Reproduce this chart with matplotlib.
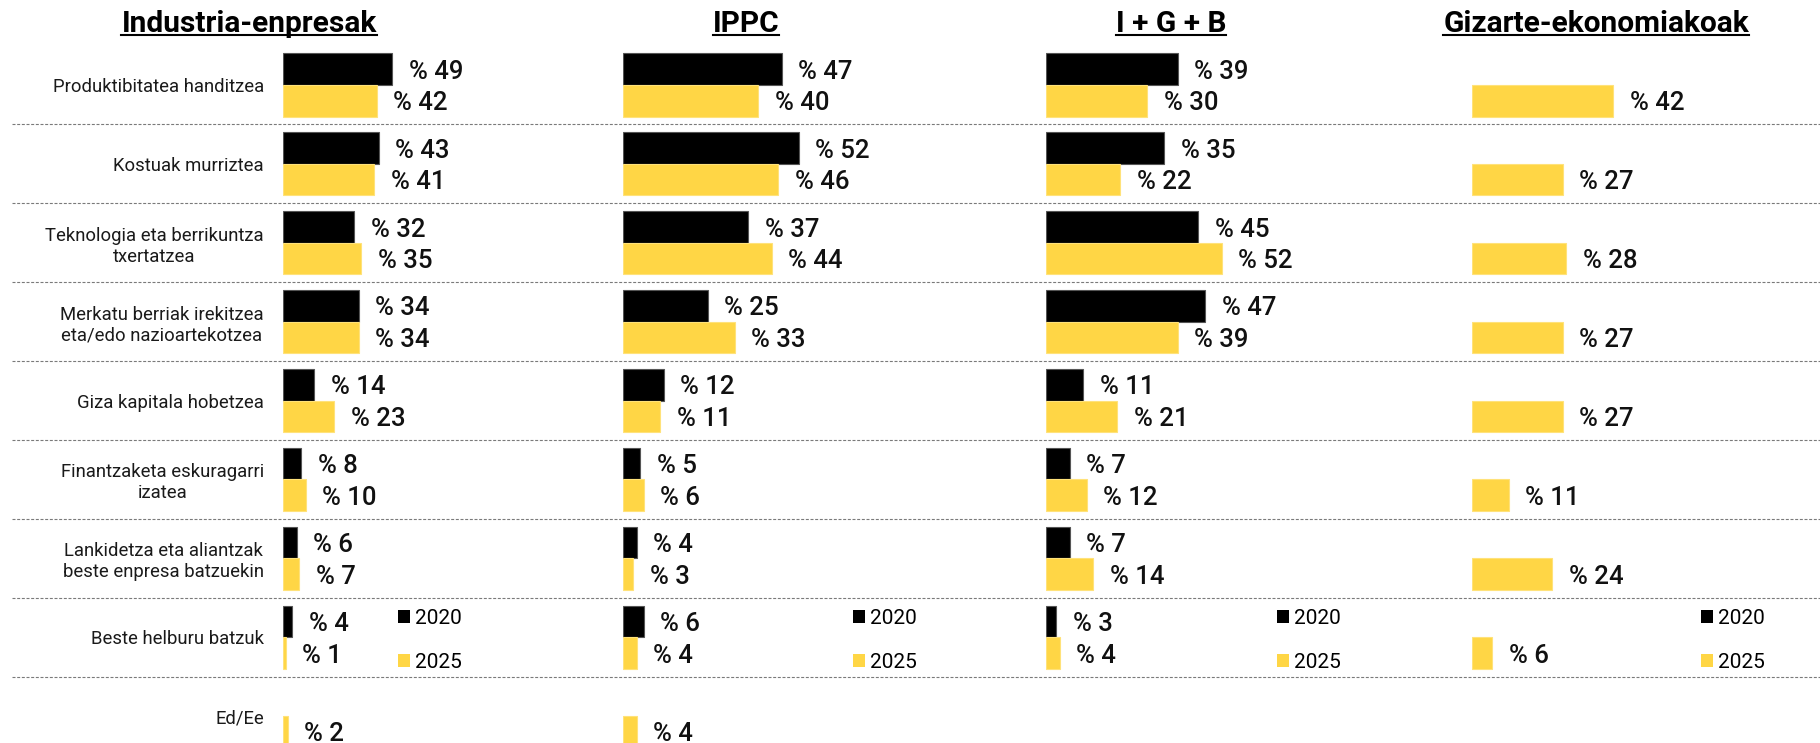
import numpy as np
import matplotlib.pyplot as plt
from matplotlib.lines import Line2D
from matplotlib.patches import Patch
from matplotlib.transforms import IdentityTransform

plt.rcParams['font.family'] = ['Roboto', 'DejaVu Sans']

CATEGORIES = ["Produktibitatea handitzea",
              "Kostuak murriztea",
              "Teknologia eta berrikuntza\ntxertatzea",
              "Merkatu berriak irekitzea\neta/edo nazioartekotzea",
              "Giza kapitala hobetzea",
              "Finantzaketa eskuragarri\nizatea",
              "Lankidetza eta aliantzak\nbeste enpresa batzuekin",
              "Beste helburu batzuk",
              "Ed/Ee"]

PANELS = ["Industria-enpresak", "IPPC", "I + G + B", "Gizarte-ekonomiakoak"]
YEARS = ["2020", "2025"]

industria_2020 = [49, 43, 32, 34, 14, 8, 6, 4, None]
industria_2025 = [42, 41, 35, 34, 23, 10, 7, 1, 2]
ippc_2020 = [47, 52, 37, 25, 12, 5, 4, 6, None]
ippc_2025 = [40, 46, 44, 33, 11, 6, 3, 4, 4]
igb_2020 = [39, 35, 45, 47, 11, 7, 7, 3, None]
igb_2025 = [30, 22, 52, 39, 21, 12, 14, 4, None]
gizarte_2020 = [None] * 9
gizarte_2025 = [42, 27, 28, 27, 27, 11, 24, 6, None]

series = [(industria_2020, industria_2025), (ippc_2020, ippc_2025),
          (igb_2020, igb_2025), (gizarte_2020, gizarte_2025)]

BLACK = '#000000'
YELLOW = '#FFD645'
W, H = 1820, 743

# layout in pixels: left edge of bars, pixels per percent, title centre, legend x (in %)
panel_x0 = [283.3, 623.3, 1046.0, 1471.8]
px_per_pct = [2.22, 3.37, 3.38, 3.36]
title_cx = [249, 746, 1171, 1596]
legend_x = [51.7, 68.2, 68.2, 68.2]
panel_w = 246

row0, pitch = 85.0, 78.9
ax_top = row0 - pitch / 2
ax_h = pitch * len(CATEGORIES)


def px_rect(x0, w):
    return [x0 / W, 1 - (ax_top + ax_h) / H, w / W, ax_h / H]


fig = plt.figure(figsize=(W / 100, H / 100), dpi=100)

# dotted row separators across the whole chart
bg = fig.add_axes(px_rect(12, W - 12))
bg.set_ylim(len(CATEGORIES) - 0.5, -0.5)
bg.set_xlim(0, 1)
bg.axis('off')
for i in range(len(CATEGORIES) - 1):
    bg.axhline(i + 0.5, color='#7a7a7a', lw=0.8, ls=(0, (2.7, 1.5)))

y = np.arange(len(CATEGORIES))
bh = 0.4

for k, (name, (s20, s25)) in enumerate(zip(PANELS, series)):
    ax = fig.add_axes(px_rect(panel_x0[k], panel_w))
    ax.set_xlim(0, panel_w / px_per_pct[k])
    ax.set_ylim(len(CATEGORIES) - 0.5, -0.5)
    ax.patch.set_visible(False)
    for sp in ax.spines.values():
        sp.set_visible(False)
    ax.set_xticks([])

    for vals, off, col, ec in [(s20, -bh / 2, BLACK, '#555555'), (s25, bh / 2, YELLOW, '#FFE27A')]:
        idx = [i for i, v in enumerate(vals) if v is not None]
        v = [vals[i] for i in idx]
        ax.barh(y[idx] + off, v, height=bh, color=col, edgecolor=ec, linewidth=0.8)
        for i, val in zip(idx, v):
            ax.annotate(f"% {val}", xy=(val, i + off), xytext=(12, -1.8),
                        textcoords='offset points', ha='left', va='center',
                        fontsize=18.5, fontweight='medium', color='#111111')

    if k == 0:
        ax.set_yticks(y, labels=CATEGORIES)
        ax.tick_params(axis='y', length=0, pad=14, labelsize=13.3, labelcolor='#1a1a1a')
        for lbl in ax.get_yticklabels():
            lbl.set_multialignment('center')
    else:
        ax.set_yticks([])

    handles = [Patch(facecolor=BLACK, edgecolor='none', label=YEARS[0]),
               Patch(facecolor=YELLOW, edgecolor='none', label=YEARS[1])]
    ax.legend(handles=handles, loc='upper left', bbox_to_anchor=(legend_x[k], 6.64),
              bbox_transform=ax.transData, frameon=False, fontsize=15,
              handlelength=0.58, handleheight=0.58, handletextpad=0.25,
              labelspacing=1.2, borderpad=0, borderaxespad=0)

# underlined panel headings
titles = []
for name, cx in zip(PANELS, title_cx):
    t = fig.text(cx / W, 1 - 32.5 / H, name, ha='center', va='baseline',
                 fontsize=21.5, fontweight='bold', color='#000000')
    titles.append(t)

fig.canvas.draw()
renderer = fig.canvas.get_renderer()
for t in titles:
    bb = t.get_window_extent(renderer)
    yb = H - 35.0
    fig.add_artist(Line2D([bb.x0, bb.x1], [yb, yb], color='#000000', lw=1.5,
                          transform=IdentityTransform()))

fig.savefig('out.png', dpi=100)
